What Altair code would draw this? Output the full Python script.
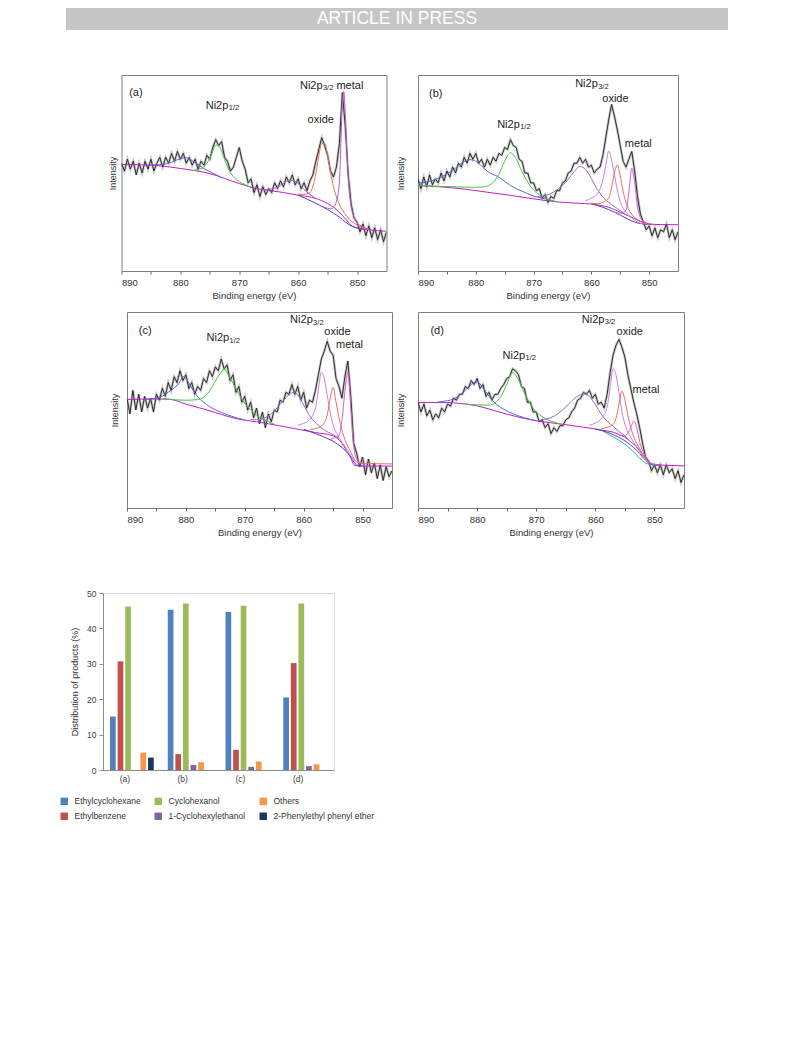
import altair as alt
import pandas as pd

FONT = "Liberation Sans"

# ---------------- XPS spectra: energy grid of the measured points (0.5 eV steps)
E_RAW = [round(890 - 0.5 * k, 1) for k in range(91)]

# ---- panel (a)
A_RAW = [55, 51, 57, 52, 56, 49, 55, 50, 56, 52,
         57, 51, 55, 58, 53, 58, 55, 60, 56, 61,
         57, 60, 55, 58, 54, 57, 52, 56, 54, 59,
         57, 63, 67, 64, 66, 58, 56, 51, 53, 58,
         63, 56, 52, 45, 47, 40, 44, 38, 43, 39,
         42, 40, 45, 42, 46, 43, 48, 45, 49, 44,
         47, 42, 45, 41, 46, 49, 56, 62, 68, 64,
         59, 51, 48, 53, 65, 91, 74, 49, 34, 27,
         25, 20, 24, 18, 23, 17, 22, 16, 21, 15,
         20]
A_BG_E = [890, 885, 880, 875, 870, 867, 865, 860, 857, 855, 853, 852, 851, 850, 848, 845]
A_BG = [54.3, 54, 52.3, 49.7, 44.6, 42, 41.2, 38.7, 37, 34.4, 30, 26.7, 23.3, 22, 21, 20.3]
A_BG2_E = [860, 858, 856, 854, 853, 852, 851, 850, 849]
A_BG2 = [38.7, 36, 33, 29.5, 27.5, 25, 23, 22, 21.5]
A_SAT1_E = [885, 884, 883, 882, 881, 880, 879, 878, 877, 876, 875, 874, 873]
A_SAT1 = [54, 54.2, 54.4, 55, 56.2, 57.3, 57.8, 56.3, 54.3, 52.2, 50.7, 49.2, 47.6]
A_P12_E = [878, 877, 876, 875, 874.5, 874, 873.5, 873, 872.5, 872, 871, 870, 869, 868]
A_P12 = [51.3, 51.8, 53.2, 57.7, 61.2, 64.2, 64.2, 61.1, 57.1, 53.1, 48.1, 45.6, 44, 42.9]
A_SAT2_E = [866, 865, 864, 863, 862, 861, 860, 859, 858, 857]
A_SAT2 = [41.6, 41.7, 42.2, 43.7, 45.7, 46.2, 44.7, 41.6, 39.1, 37]
A_OX_E = [860, 859, 858, 857.5, 857, 856.5, 856, 855.5, 855, 854.5, 854, 853, 852, 851, 850, 849, 848]
A_OX = [39.2, 39.1, 40, 43.2, 49.5, 58.7, 65, 65, 59, 50.2, 43, 34, 29, 25.5, 23.5, 22.2, 21.1]
A_MET_E = [856, 855, 854.5, 854, 853.5, 853, 852.75, 852.5, 852.25, 852, 851.75, 851.5, 851, 850.5, 850, 849, 848]
A_MET = [33, 32, 31.7, 32.5, 35.5, 45.5, 64.9, 86.2, 91.6, 80, 62.5, 48, 33, 27.5, 24.5, 22.5, 21.1]
A_TXT = ["(a)", "Ni2p", "oxide", "Ni2p", "metal"]
A_TXT_E = [888.7, 875.7, 858.4, 859.7, 853.5]
A_TXT_I = [89.5, 82.7, 75.3, 92.9, 92.9]
A_SUB = ["1/2", "3/2"]
A_SUB_E = [875.7, 859.7]
A_SUB_I = [82.7, 92.9]

# ---- panel (b)
B_RAW = [47, 42, 48, 43, 49, 44, 47, 45, 50, 46,
         51, 48, 53, 50, 55, 53, 58, 55, 60, 57,
         60, 55, 57, 53, 57, 54, 58, 56, 60, 59,
         63, 62, 67, 64, 63, 57, 56, 50, 50, 45,
         45, 41, 42, 37, 39, 35, 38, 37, 41, 41,
         45, 46, 50, 51, 55, 55, 58, 55, 57, 53,
         54, 50, 52, 53, 59, 68, 77, 85, 79, 72,
         64, 56, 53, 57, 61, 51, 38, 29, 25, 21,
         23, 18, 22, 17, 21, 20, 24, 17, 21, 16,
         20]
B_BG_E = [890, 886, 882, 878, 874, 870, 866, 862, 860, 858, 857, 856, 855, 854, 853, 852, 851, 850, 848, 845]
B_BG = [43.6, 42.9, 41.8, 40.2, 38.6, 36.8, 35.3, 34.5, 34.2, 33.2, 32.5, 31.3, 30, 28.7, 27.4, 26, 24.8, 23.9, 23.7, 23.6]
B_BG2_E = [860, 858, 856, 855, 854, 853, 852, 851, 850, 849]
B_BG2 = [34.2, 32.5, 30, 28.5, 27, 25.5, 24.5, 24, 23.7, 23.6]
B_SAT1_E = [890, 888, 886, 884, 882, 881, 880, 879, 878, 876, 874, 872, 870, 868, 866]
B_SAT1 = [44.8, 45.7, 47.9, 51.4, 55.8, 56.8, 56, 53.6, 50.9, 47.9, 43.6, 40.7, 38.3, 36.8, 35.3]
B_P12_E = [890, 887, 884, 882, 880, 879, 878, 877, 876, 875, 874, 873, 872, 871, 870, 869, 868, 867, 866]
B_P12 = [43.8, 43.3, 43, 42.8, 42.7, 42.8, 43.4, 45.2, 49.4, 56, 60.3, 57.2, 50.7, 45.3, 41.3, 38.9, 37.2, 36.1, 35.3]
B_SAT2_E = [870, 868, 866, 864, 863, 862, 861, 860, 859, 858, 857, 856, 855, 854]
B_SAT2 = [37.8, 38.5, 41.3, 46.8, 50.6, 53.3, 51.8, 47.2, 41.7, 37.7, 35, 32.8, 30.8, 28.7]
B_OX1_E = [861, 860, 859, 858, 857.5, 857, 856.5, 856, 855.5, 855, 854, 853, 852, 851]
B_OX1 = [35.8, 37.2, 39.3, 46.5, 53.8, 61.2, 56.6, 49, 41.2, 35.5, 30, 27, 25, 24]
B_OX2_E = [860, 859, 858, 857, 856.5, 856, 855.5, 855, 854.5, 854, 853.5, 853, 852, 851, 850]
B_OX2 = [34.7, 34.3, 35, 37.2, 42.6, 50, 54.2, 48.5, 40.7, 35, 31.2, 29, 26, 24.5, 23.7]
B_MET_E = [856, 855, 854, 853.5, 853, 852.5, 852, 851.5, 851, 850, 849]
B_MET = [30, 29.5, 31, 40.2, 52.5, 45, 32.5, 27.2, 25.5, 24.2, 23.6]
B_TXT = ["(b)", "Ni2p", "Ni2p", "oxide", "metal"]
B_TXT_E = [888.1, 876.3, 862.8, 858.1, 854.2]
B_TXT_I = [88.6, 73.2, 93.7, 86.3, 63.3]
B_SUB = ["1/2", "3/2"]
B_SUB_E = [876.3, 862.8]
B_SUB_I = [73.2, 93.7]

# ---- panel (c)
C_RAW = [56, 48, 60, 50, 58, 49, 57, 51, 56, 49,
         58, 55, 61, 57, 64, 60, 67, 64, 70, 65,
         68, 61, 64, 58, 62, 60, 66, 64, 70, 67,
         72, 70, 76, 71, 73, 65, 68, 59, 62, 54,
         57, 50, 54, 46, 51, 43, 49, 41, 48, 44,
         50, 49, 55, 54, 59, 58, 63, 58, 62, 55,
         59, 51, 55, 54, 60, 68, 76, 80, 85, 80,
         78, 66, 62, 56, 67, 75, 57, 33, 28, 21,
         26, 17, 25, 18, 23, 15, 22, 14, 21, 16,
         19]
C_BG_E = [890, 885, 883, 880, 877, 875, 871, 868, 864, 861, 858, 855, 853.5, 852.5, 852, 851.5, 851, 850, 845]
C_BG = [55.4, 55.6, 55.6, 53, 50.5, 48.7, 45.3, 44, 41.9, 40.2, 38.5, 36.8, 33, 28, 25.6, 22.2, 21.5, 21.4, 21.4]
C_BG2_E = [860, 858, 856, 855, 854, 853, 852, 851.5, 851, 850]
C_BG2 = [40.2, 38, 35.5, 34, 32, 29.5, 26, 23.5, 22, 21.4]
C_SAT1_E = [887, 885, 884, 883, 882, 881, 880.5, 880, 879, 878, 877, 876, 874, 872, 870]
C_SAT1 = [55.5, 56.1, 57.1, 59.1, 61.2, 64.4, 67.1, 66, 61.2, 56.8, 54, 51.8, 48.8, 46.6, 44.9]
C_P12_E = [884, 882, 880, 878, 877, 876, 875, 874, 873.5, 873, 872, 871, 870, 869, 868, 867, 866, 865]
C_P12 = [55.6, 55.2, 55, 55.3, 56.5, 59.6, 64.7, 69.3, 71, 69, 63.7, 58.1, 53.4, 50, 47.2, 45.5, 44, 42.7]
C_SAT2_E = [869, 868, 867, 866, 865, 864, 863, 862, 861.5, 861, 860, 859, 858, 857, 856, 855, 854]
C_SAT2 = [45.1, 45, 45.5, 47, 49.4, 52.9, 56.3, 58.8, 58.8, 57.7, 52.6, 47.1, 43.5, 40.9, 38.9, 37.5, 35.5]
C_OX1_E = [861, 860, 859, 858, 857.5, 857, 856.5, 856, 855.5, 855, 854, 853, 852, 851]
C_OX1 = [42.2, 43.2, 45.1, 51, 60.4, 69.2, 66.1, 57.5, 48.8, 42.5, 36, 31.5, 27, 22]
C_OX2_E = [859, 858, 857, 856, 855.5, 855, 854.5, 854, 853.5, 853, 852, 851, 850, 848, 845]
C_OX2 = [40.1, 40.5, 41.7, 47.5, 55.8, 61.5, 54, 46, 39.7, 35, 28.5, 23.5, 22.8, 22.6, 22.5]
C_MET_E = [855.5, 855, 854, 853.5, 853, 852.75, 852.5, 852.25, 852, 851.5, 851, 850, 849]
C_MET = [34.8, 35.5, 37, 44.7, 59.5, 65.6, 69.3, 62.9, 51, 31.5, 25, 22.4, 21.4]
C_TXT = ["(c)", "Ni2p", "Ni2p", "oxide", "metal"]
C_TXT_E = [888, 876.5, 862.3, 856.5, 854.5]
C_TXT_I = [88.9, 85.2, 94.2, 88.4, 81.5]
C_SUB = ["1/2", "3/2"]
C_SUB_E = [876.5, 862.3]
C_SUB_I = [85.2, 94.2]

# ---- panel (d)
D_RAW = [54, 49, 53, 47, 50, 45, 48, 46, 51, 49,
         53, 52, 56, 55, 58, 58, 62, 61, 65, 63,
         66, 61, 63, 57, 59, 55, 58, 58, 61, 63,
         66, 67, 71, 70, 68, 62, 61, 54, 54, 49,
         49, 44, 45, 41, 43, 38, 41, 39, 42, 42,
         45, 46, 49, 51, 55, 56, 59, 58, 60, 56,
         58, 53, 54, 51, 58, 69, 78, 83, 86, 82,
         77, 68, 61, 54, 48, 41, 33, 26, 24, 19,
         22, 18, 22, 17, 22, 18, 20, 15, 19, 13,
         17]
D_BG_E = [890, 885, 883, 880, 878, 875, 872, 870, 867, 865, 862, 860, 858, 857, 856, 855, 854, 853, 852, 851, 850, 848, 845]
D_BG = [53.8, 53.8, 53.4, 52.1, 50.5, 47.9, 45.7, 44.5, 43.3, 42.5, 41.2, 40.3, 39.3, 38.7, 37.5, 36.1, 33.8, 31.1, 26.9, 23.5, 22.2, 21.8, 21.5]
D_BG2_E = [860, 858, 857, 856, 855, 854, 853, 852, 851, 850, 849]
D_BG2 = [40.3, 38.7, 37.5, 36, 34.3, 32, 29.5, 26, 23, 22, 21.8]
D_BG3_E = [859, 858, 856, 855, 854, 853, 852, 851, 850, 849]
D_BG3 = [39.8, 38, 34.5, 32.5, 30, 27, 24, 22.3, 21.8, 21.7]
D_SAT1_E = [887, 886, 884, 883, 882, 881, 880, 879, 878, 877, 876, 874, 872, 870]
D_SAT1 = [53.8, 54.3, 55.6, 57.4, 60, 63, 64.4, 61.3, 57, 53.6, 51.3, 48.2, 46, 44.5]
D_P12_E = [882, 880, 878, 877, 876, 875, 874, 873, 872, 871, 870, 869, 868, 867, 866]
D_P12 = [53, 52.6, 52.5, 53.6, 56.8, 62.9, 69, 65.4, 58.7, 53.1, 49, 46.6, 44.9, 43.8, 42.9]
D_SAT2_E = [869, 868, 867, 866, 865, 864, 863, 862, 861, 860, 859, 858, 857, 856, 855, 854]
D_SAT2 = [45.1, 45.7, 46.8, 48.9, 51.5, 54.6, 57.1, 58.2, 56.8, 52.8, 47.8, 44.3, 41.7, 39, 36.8, 33.8]
D_OX1_E = [861, 860, 859, 858, 857.5, 857, 856.5, 856, 855.5, 855, 854, 853, 852, 851]
D_OX1 = [42.3, 43.3, 45.5, 51.7, 61.1, 71.1, 67.8, 59, 49.2, 42.8, 36, 31.5, 27, 23]
D_OX2_E = [859, 858, 857, 856.5, 856, 855.5, 855, 854.5, 854, 853.5, 853, 852, 851, 850]
D_OX2 = [40.5, 41.2, 42.5, 45.8, 53, 59.6, 55.3, 47.2, 41, 36.2, 33, 27.5, 23.5, 22]
D_MET_E = [856, 855, 854.5, 854, 853.5, 853, 852.5, 852, 851.5, 851, 850, 849]
D_MET = [37, 36.8, 38.2, 41, 44.5, 41, 33.8, 29, 26, 23.7, 22.3, 21.8]
D_TXT = ["(d)", "Ni2p", "Ni2p", "oxide", "metal"]
D_TXT_E = [887.9, 875.7, 862.3, 856.4, 853.7]
D_TXT_I = [88.8, 76.2, 94.4, 88.2, 58.5]
D_SUB = ["1/2", "3/2"]
D_SUB_E = [875.7, 862.3]
D_SUB_I = [76.2, 94.4]

# colours of the fitted curves
COL_BGM = "#c41cc4"
COL_BGB = "#4a48b8"
COL_BGT = "#2fae9c"
COL_SAT1 = "#5868d0"
COL_P12 = "#45c245"
COL_SAT2 = "#9a68cc"
COL_OX1 = "#c97fdf"
COL_OX2 = "#e8715c"
COL_MET = "#d65ad6"
COL_MET_A = "#b85cc8"

# ---------------- bar chart data
CATS = ["(a)", "(b)", "(c)", "(d)"]
ETHYLCYCLOHEXANE = [15.1, 45.3, 44.6, 20.5]
ETHYLBENZENE = [30.7, 4.5, 5.7, 30.2]
CYCLOHEXANOL = [46.2, 47.0, 46.4, 47.0]
CYCLOHEXYLETHANOL = [0.0, 1.4, 0.9, 1.1]
OTHERS = [4.9, 2.2, 2.4, 1.6]
PHENYLETHYL_ETHER = [3.5, 0.0, 0.0, 0.0]
BAR_ORDER = ["Ethylcyclohexane", "Ethylbenzene", "Cyclohexanol",
             "1-Cyclohexylethanol", "Others", "2-Phenylethyl phenyl ether"]
BAR_VALUES = [ETHYLCYCLOHEXANE, ETHYLBENZENE, CYCLOHEXANOL,
              CYCLOHEXYLETHANOL, OTHERS, PHENYLETHYL_ETHER]
BAR_COLORS = ["#4f81bd", "#c0504d", "#9bbb59", "#8064a2", "#f79646", "#17375e"]
LEGEND_ORDER = ["Ethylcyclohexane", "Cyclohexanol", "Others",
                "Ethylbenzene", "1-Cyclohexylethanol", "2-Phenylethyl phenyl ether"]


def spacer(w, h=10):
    return alt.Chart(pd.DataFrame({"v": [0]})).mark_point(opacity=0, size=1).encode(
        x=alt.value(w / 2), y=alt.value(h / 2)
    ).properties(width=w, height=h, view=alt.ViewBackground(stroke=None))


def xps_panel(raw, curves, txt, sub, width, height, tpad):
    xs = alt.Scale(domain=[845, 890], reverse=True, nice=False, zero=False)
    ys = alt.Scale(domain=[0, 100], nice=False, zero=False)
    xaxis = alt.Axis(values=[890, 885, 880, 875, 870, 865, 860, 855, 850],
                     labelExpr="datum.value % 10 === 0 ? datum.label : ''",
                     format="d", title="Binding energy (eV)", grid=False, domain=False,
                     tickSize=3, tickColor="#666666", labelPadding=3, titlePadding=4,
                     labelFontSize=9.5, titleFontSize=9.5, labelColor="#333333",
                     titleColor="#333333", labelFont=FONT, titleFont=FONT,
                     titleFontWeight="normal")
    yaxis = alt.Axis(labels=False, ticks=False, domain=False, grid=False,
                     title="Intensity", titlePadding=tpad, titleFontSize=9,
                     titleColor="#333333", titleFont=FONT, titleFontWeight="normal")
    X = alt.X("E:Q", scale=xs, axis=xaxis)
    Y = alt.Y("I:Q", scale=ys, axis=yaxis)
    raw_df = pd.DataFrame({"E": E_RAW, "I": raw})
    layers = [
        alt.Chart(raw_df).mark_line(color="#9a9a9a", strokeWidth=2.6, opacity=0.55,
                                    clip=True).encode(x=X, y=Y),
        alt.Chart(raw_df).mark_line(color="#1c1c1c", strokeWidth=0.9,
                                    clip=True).encode(x=X, y=Y),
    ]
    for es, vals, col in curves:
        layers.append(alt.Chart(pd.DataFrame({"E": es, "I": vals})).mark_line(
            color=col, strokeWidth=1, interpolate="monotone", clip=True).encode(x=X, y=Y))
    t_df = pd.DataFrame({"E": txt[1], "I": txt[2], "t": txt[0]})
    s_df = pd.DataFrame({"E": sub[1], "I": sub[2], "t": sub[0]})
    layers.append(alt.Chart(t_df).mark_text(align="left", baseline="alphabetic", fontSize=11,
                                            font=FONT, color="#222222").encode(x=X, y=Y, text="t:N"))
    layers.append(alt.Chart(s_df).mark_text(align="left", baseline="alphabetic", fontSize=7.5,
                                            font=FONT, color="#222222", dx=23, dy=1.5).encode(
        x=X, y=Y, text="t:N"))
    return alt.layer(*layers).properties(
        width=width, height=height,
        view=alt.ViewBackground(stroke="#7f7f7f", strokeWidth=1))


panel_a = xps_panel(A_RAW, [(A_BG_E, A_BG, COL_BGM), (A_BG2_E, A_BG2, COL_BGB),
                            (A_SAT1_E, A_SAT1, COL_SAT1), (A_P12_E, A_P12, COL_P12),
                            (A_SAT2_E, A_SAT2, COL_SAT2), (A_OX_E, A_OX, COL_OX2),
                            (A_MET_E, A_MET, COL_MET_A)],
                    (A_TXT, A_TXT_E, A_TXT_I), (A_SUB, A_SUB_E, A_SUB_I), 265, 196, 4.5)
panel_b = xps_panel(B_RAW, [(B_BG_E, B_BG, COL_BGM), (B_BG2_E, B_BG2, COL_BGB),
                            (B_SAT1_E, B_SAT1, COL_SAT1), (B_P12_E, B_P12, COL_P12),
                            (B_SAT2_E, B_SAT2, COL_SAT2), (B_OX1_E, B_OX1, COL_OX1),
                            (B_OX2_E, B_OX2, COL_OX2), (B_MET_E, B_MET, COL_MET)],
                    (B_TXT, B_TXT_E, B_TXT_I), (B_SUB, B_SUB_E, B_SUB_I), 260, 196, 12.5)
panel_c = xps_panel(C_RAW, [(C_BG_E, C_BG, COL_BGM), (C_BG2_E, C_BG2, COL_BGB),
                            (C_SAT1_E, C_SAT1, COL_SAT1), (C_P12_E, C_P12, COL_P12),
                            (C_SAT2_E, C_SAT2, COL_SAT2), (C_OX1_E, C_OX1, COL_OX1),
                            (C_OX2_E, C_OX2, COL_OX2), (C_MET_E, C_MET, COL_MET)],
                    (C_TXT, C_TXT_E, C_TXT_I), (C_SUB, C_SUB_E, C_SUB_I), 265, 196, 7.5)
panel_d = xps_panel(D_RAW, [(D_BG_E, D_BG, COL_BGM), (D_BG3_E, D_BG3, COL_BGT),
                            (D_BG2_E, D_BG2, COL_BGB),
                            (D_SAT1_E, D_SAT1, COL_SAT1), (D_P12_E, D_P12, COL_P12),
                            (D_SAT2_E, D_SAT2, COL_SAT2), (D_OX1_E, D_OX1, COL_OX1),
                            (D_OX2_E, D_OX2, COL_OX2), (D_MET_E, D_MET, COL_MET)],
                    (D_TXT, D_TXT_E, D_TXT_I), (D_SUB, D_SUB_E, D_SUB_I), 266, 196, 12.5)

row1 = alt.hconcat(spacer(41), panel_a, panel_b, spacing=8.5)
row2 = alt.hconcat(spacer(49), panel_c, panel_d, spacing=3)

# ---------------- bar chart
bar_rows = []
for prod, vals in zip(BAR_ORDER, BAR_VALUES):
    for c, v in zip(CATS, vals):
        bar_rows.append({"cat": c, "product": prod, "val": v})
bar_df = pd.DataFrame(bar_rows)

bars = alt.Chart(bar_df).mark_bar().encode(
    x=alt.X("cat:N", sort=CATS,
            scale=alt.Scale(paddingInner=0.21, paddingOuter=0.105),
            axis=alt.Axis(title=None, labelAngle=0, ticks=False, domainColor="#8c8c8c",
                          labelFontSize=8.5, labelColor="#404040", labelFont=FONT,
                          labelPadding=4, labelOffset=-7)),
    xOffset=alt.XOffset("product:N", scale=alt.Scale(domain=BAR_ORDER, paddingInner=0.25,
                                                     paddingOuter=0.125)),
    y=alt.Y("val:Q", scale=alt.Scale(domain=[0, 50], nice=False),
            axis=alt.Axis(values=[0, 10, 20, 30, 40, 50], title="Distribution of products (%)",
                          grid=False, tickSize=4, tickColor="#8c8c8c", domainColor="#8c8c8c",
                          labelFontSize=8.5, labelColor="#404040", labelFont=FONT,
                          labelPadding=3, titlePadding=7, titleFontSize=9,
                          titleFont=FONT, titleColor="#333333", titleFontWeight="normal")),
    color=alt.Color("product:N",
                    scale=alt.Scale(domain=LEGEND_ORDER,
                                    range=[BAR_COLORS[BAR_ORDER.index(p)] for p in LEGEND_ORDER]),
                    legend=alt.Legend(title=None, orient="none", legendX=-43, legendY=204,
                                      columns=3, direction="horizontal", symbolType="square",
                                      symbolSize=55, symbolStrokeWidth=0, labelFontSize=8.5,
                                      labelFont=FONT, labelColor="#333333", columnPadding=13,
                                      rowPadding=6, labelOffset=6)),
).properties(width=231, height=177,
             view=alt.ViewBackground(stroke="#d9d9d9", strokeWidth=1))
bar_row = alt.hconcat(spacer(1), bars, spacing=0).resolve_scale(
    color="independent").resolve_legend(color="independent")

# ---------------- header bar
header = alt.Chart(pd.DataFrame({"t": ["ARTICLE IN PRESS"]})).mark_text(
    color="white", fontSize=17.5, font=FONT).encode(
    text="t:N", x=alt.value(331), y=alt.value(11)
).properties(width=662, height=22,
             view=alt.ViewBackground(fill="#c6c6c6", stroke=None))
header_row = alt.hconcat(spacer(3), header, spacing=5)

rows = alt.vconcat(row1, row2, spacing=10)
body = alt.vconcat(rows, bar_row, spacing=50).resolve_scale(
    color="independent").resolve_legend(color="independent")
chart = alt.vconcat(header_row, body, spacing=44).resolve_scale(
    color="independent").resolve_legend(color="independent").properties(
    padding={"left": 50, "top": 0, "right": 0, "bottom": 0},
    background="white"
).configure(font=FONT)

chart.save("out.html", embed_options={"renderer": "svg", "actions": False})
